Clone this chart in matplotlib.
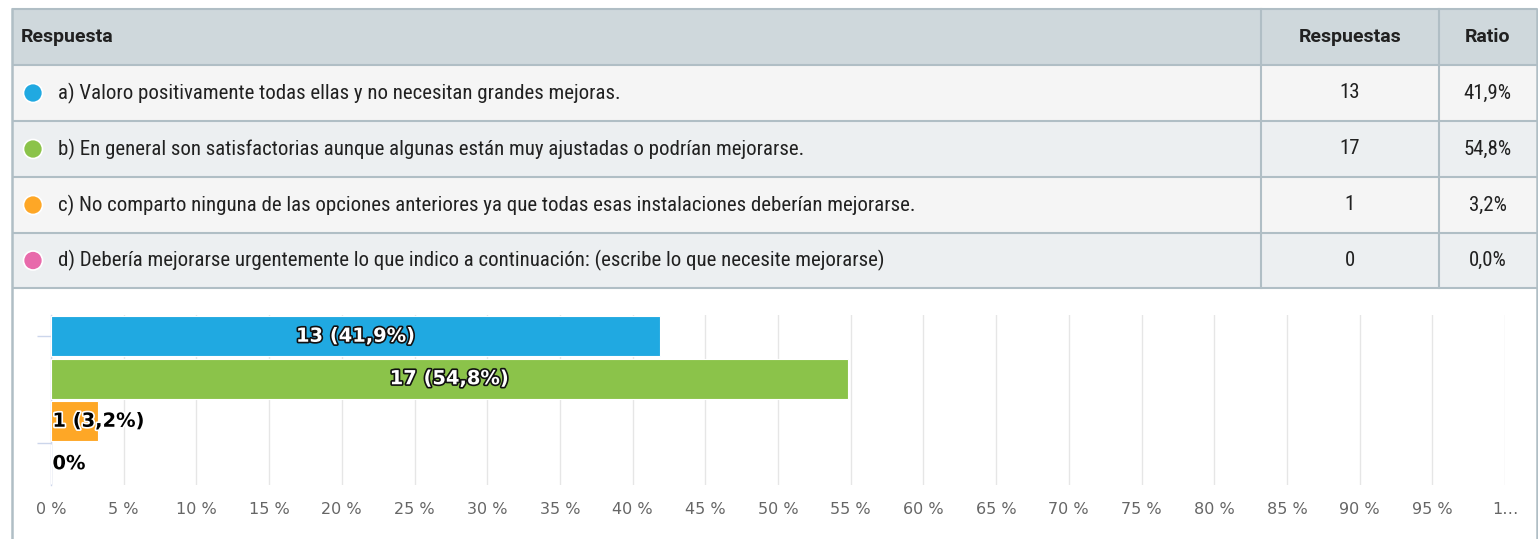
import matplotlib
matplotlib.use("Agg")
import matplotlib.pyplot as plt
from matplotlib import font_manager
from matplotlib.patches import Rectangle, Circle
import matplotlib.patheffects as pe

# ---------------- data ----------------
options = [
    "a) Valoro positivamente todas ellas y no necesitan grandes mejoras.",
    "b) En general son satisfactorias aunque algunas están muy ajustadas o podrían mejorarse.",
    "c) No comparto ninguna de las opciones anteriores ya que todas esas instalaciones deberían mejorarse.",
    "d) Debería mejorarse urgentemente lo que indico a continuación: (escribe lo que necesite mejorarse)",
]
counts = [13, 17, 1, 0]
ratios = [41.9, 54.8, 3.2, 0.0]
colors = ["#20a9e1", "#8bc34a", "#fea726", "#e86aab"]
header = ["Respuesta", "Respuestas", "Ratio"]
xticks = list(range(0, 101, 5))
xtick_labels = [f"{t} %" for t in xticks[:-1]] + ["1…"]

def fmt_pct(v):
    return f"{v:.1f}".replace(".", ",") + "%"

# ---------------- fonts ----------------
avail = {f.name for f in font_manager.fontManager.ttflist}
def pick(cands, default="DejaVu Sans"):
    for c in cands:
        if c in avail:
            return c
    return default
cond_font = pick(["Roboto Condensed", "Liberation Sans Narrow", "Liberation Sans"])
head_font = pick(["Roboto", "Liberation Sans"])

W, H = 1538, 539
fig = plt.figure(figsize=(W / 100, H / 100), dpi=100)
fig.patch.set_facecolor("white")

# ---------------- table (pixel coordinates) ----------------
tab = fig.add_axes([0, 0, 1, 1])
tab.set_xlim(0, W)
tab.set_ylim(H, 0)
tab.axis("off")

border = "#b0bec5"
x_left, x_c1, x_c2, x_right = 12, 1261, 1439, 1536.5
rows_y = [9, 65, 121, 177, 233, 288]
bgs = ["#cfd8dc", "#f5f5f5", "#eceff1", "#f5f5f5", "#eceff1"]
for i in range(5):
    tab.add_patch(Rectangle((x_left, rows_y[i]), x_right - x_left, rows_y[i + 1] - rows_y[i],
                            facecolor=bgs[i], edgecolor="none", zorder=1))
for y in rows_y:
    tab.plot([x_left, x_right], [y, y], color=border, lw=1.5, zorder=3, solid_capstyle="butt")
for x in [x_c1, x_c2]:
    tab.plot([x, x], [rows_y[0], rows_y[-1]], color=border, lw=1.5, zorder=3)
for x in [x_left, x_right]:
    tab.plot([x, x], [rows_y[0], H], color=border, lw=1.8, zorder=3)

txt_color = "#212121"
fs_row = 15.0
fs_head = 14.0
hy = (rows_y[0] + rows_y[1]) / 2
tab.text(21, hy, header[0], fontfamily=head_font, fontweight="bold", fontsize=fs_head,
         color=txt_color, va="center", ha="left", zorder=4)
tab.text((x_c1 + x_c2) / 2, hy, header[1], fontfamily=head_font, fontweight="bold", fontsize=fs_head,
         color=txt_color, va="center", ha="center", zorder=4)
tab.text((x_c2 + x_right) / 2, hy, header[2], fontfamily=head_font, fontweight="bold", fontsize=fs_head,
         color=txt_color, va="center", ha="center", zorder=4)

for i, (opt, n, r, c) in enumerate(zip(options, counts, ratios, colors)):
    cy = (rows_y[i + 1] + rows_y[i + 2]) / 2
    tab.add_patch(Circle((33, cy), 9.5, facecolor=c, edgecolor="white", lw=1.2, zorder=4))
    tab.text(58, cy, opt, fontfamily=cond_font, fontsize=fs_row, color=txt_color,
             va="center", ha="left", zorder=4)
    tab.text((x_c1 + x_c2) / 2, cy, str(n), fontfamily=cond_font, fontsize=fs_row, color=txt_color,
             va="center", ha="center", zorder=4)
    tab.text((x_c2 + x_right) / 2, cy, fmt_pct(r), fontfamily=cond_font, fontsize=fs_row, color=txt_color,
             va="center", ha="center", zorder=4)

# ---------------- bar chart ----------------
ax_l, ax_r, ax_t, ax_b = 51, 1505, 315, 485
ax = fig.add_axes([ax_l / W, 1 - ax_b / H, (ax_r - ax_l) / W, (ax_b - ax_t) / H])
ax.set_facecolor("none")
ypos = list(range(len(counts)))
ax.barh(ypos, ratios, height=0.93, color=colors, edgecolor="white", linewidth=0.8, zorder=3)
ax.set_xlim(0, 100)
ax.set_ylim(len(counts) - 0.5, -0.5)
ax.set_xticks(xticks)
ax.set_xticklabels(xtick_labels, fontsize=11.5, color="#666666", fontfamily="DejaVu Sans")
ax.tick_params(axis="x", length=0, pad=12)
ax.grid(axis="x", color="#e6e6e6", lw=1, zorder=0)
ax.set_yticks([0, 2.5])
ax.set_yticklabels([])
ax.tick_params(axis="y", length=10, color="#ccd6eb", width=1)
for s in ["top", "right", "bottom"]:
    ax.spines[s].set_visible(False)
ax.spines["left"].set_color("#ccd6eb")
ax.spines["left"].set_linewidth(1)
ax.set_axisbelow(True)

for i, (n, r) in enumerate(zip(counts, ratios)):
    label = "0%" if n == 0 else f"{n} ({fmt_pct(r)})"
    if r > 20:
        ax.text(r / 2, i, label, ha="center", va="center", fontsize=14, fontweight="bold",
                color="white", zorder=5,
                path_effects=[pe.withStroke(linewidth=2.4, foreground="#111111")])
    else:
        ax.text(0.1, i, label, ha="left", va="center", fontsize=14, fontweight="bold",
                color="black", zorder=5,
                path_effects=[pe.withStroke(linewidth=2.4, foreground="white")])

fig.savefig("out.png", dpi=100)
